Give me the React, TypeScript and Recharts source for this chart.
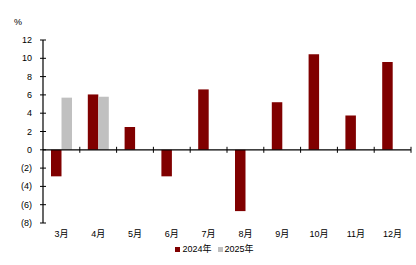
import { Bar, BarChart, Legend, ReferenceLine, XAxis, YAxis } from 'recharts';

const months = ['3月', '4月', '5月', '6月', '7月', '8月', '9月', '10月', '11月', '12月'];
const values2024 = [-2.9, 6.05, 2.5, -2.9, 6.6, -6.7, 5.2, 10.45, 3.75, 9.6];
const values2025: (number | null)[] = [5.7, 5.8, null, null, null, null, null, null, null, null];
const yTicks = [-8, -6, -4, -2, 0, 2, 4, 6, 8, 10, 12];

const data = months.map((m, i) => ({ month: m, y2024: values2024[i], y2025: values2025[i] }));

const RED = '#800000';
const GRAY = '#c0c0c0';
const FONT = "'Liberation Sans', 'Noto Sans CJK SC', sans-serif";

function fmtY(v: number) {
  return v < 0 ? `(${Math.abs(v)})` : `${v}`;
}

function YTick({ x, y, payload }: { x?: number; y?: number; payload?: { value: number } }) {
  if (x == null || y == null || !payload) return null;
  return (
    <g>
      <line x1={x + 8} x2={x + 14} y1={y} y2={y} stroke="#000" strokeWidth={1} />
      <text x={x} y={y} textAnchor="end" dominantBaseline="central" fontSize={9} fill="#000">
        {fmtY(payload.value)}
      </text>
    </g>
  );
}

// zero line with Excel-style tick marks at the category boundaries
function ZeroLine(props: { x1?: number; x2?: number; y1?: number; y2?: number }) {
  const { x1 = 0, x2 = 0, y1 = 0 } = props;
  const n = months.length;
  const ticks = [];
  for (let k = 1; k <= n; k++) {
    const x = x1 + ((x2 - x1) * k) / n;
    ticks.push(<line key={k} x1={x} x2={x} y1={y1 - 3} y2={y1 + 3} stroke="#000" strokeWidth={1} />);
  }
  return (
    <g>
      <line x1={x1} x2={x2} y1={y1} y2={y1} stroke="#000" strokeWidth={1.2} />
      {ticks}
    </g>
  );
}

function LegendContent() {
  const items = [
    { label: '2024年', color: RED },
    { label: '2025年', color: GRAY },
  ];
  return (
    <div
      style={{
        display: 'flex',
        justifyContent: 'center',
        paddingLeft: 18,
        fontSize: 9,
        lineHeight: '10px',
        color: '#000',
      }}
    >
      {items.map((it, i) => (
        <span
          key={it.label}
          style={{ display: 'inline-flex', alignItems: 'center', marginLeft: i ? 6 : 0 }}
        >
          <span style={{ width: 5, height: 5, background: it.color, marginRight: 2, display: 'inline-block' }} />
          {it.label}
        </span>
      ))}
    </div>
  );
}

export default function App() {
  return (
    <div style={{ position: 'absolute', left: 0, top: 0, width: 416, height: 265, fontFamily: FONT, background: '#fff' }}>
      <style>{'body{margin:0}'}</style>
      <div style={{ position: 'absolute', left: 14, top: 17, fontSize: 9, color: '#000' }}>%</div>
      <BarChart
        width={416}
        height={265}
        data={data}
        margin={{ top: 40, right: 5, bottom: 9, left: 0 }}
        barGap={0}
        barSize={10.5}
      >
        <XAxis
          dataKey="month"
          axisLine={false}
          tickLine={false}
          tickSize={0}
          tickMargin={8}
          height={21}
          interval={0}
          tick={{ fontSize: 9, fill: '#000' }}
        />
        <YAxis
          width={43}
          domain={[-8, 12]}
          ticks={yTicks}
          interval={0}
          axisLine={{ stroke: '#000', strokeWidth: 1.2 }}
          tickLine={false}
          tickSize={0}
          tickMargin={11}
          tick={<YTick />}
        />
        <Bar dataKey="y2024" name="2024年" fill={RED} isAnimationActive={false} />
        <Bar dataKey="y2025" name="2025年" fill={GRAY} isAnimationActive={false} />
        <ReferenceLine y={0} shape={<ZeroLine />} />
        <Legend verticalAlign="bottom" height={12} content={<LegendContent />} />
      </BarChart>
    </div>
  );
}
